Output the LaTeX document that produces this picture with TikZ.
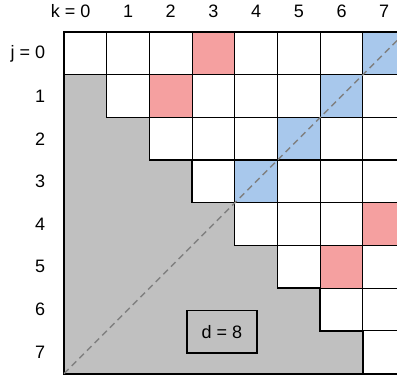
\documentclass[tikz,border=0pt]{standalone}
\usepackage{fontspec}
\setmainfont{Liberation Sans}
\definecolor{cellred}{RGB}{245,160,160}
\definecolor{cellblue}{RGB}{168,200,236}
\definecolor{regiongray}{RGB}{192,192,192}
\definecolor{dashgray}{RGB}{128,128,128}
\begin{document}
\begin{tikzpicture}[
  cell/.style={draw=black, line width=0.8pt, minimum size=1cm, inner sep=0pt, outer sep=0pt},
  lab/.style={inner sep=0pt, font=\fontsize{12}{14}\selectfont},
  dbox/.style={draw=black, line width=0.8pt, fill=regiongray, minimum width=1.64cm, minimum height=1cm, inner sep=0pt, font=\fontsize{12}{14}\selectfont}
]
\useasboundingbox (-1.5,-8.04) rectangle (7.80,0.75);
% shaded lower triangle
\fill[regiongray] (0,-1) -- (1,-1) -- (1,-2) -- (2,-2) -- (2,-3) -- (3,-3) -- (3,-4) -- (4,-4) -- (4,-5) -- (5,-5) -- (5,-6) -- (6,-6) -- (6,-7) -- (7,-7) -- (7,-8) -- (0,-8) -- cycle;
% cells
\foreach \j in {0,...,7}{
  \foreach \k in {\j,...,7}{
    \pgfmathtruncatemacro\s{\j+\k}
    \ifnum\s=7 \def\cc{cellblue}\else\ifnum\s=3 \def\cc{cellred}\else\ifnum\s=11 \def\cc{cellred}\else\def\cc{white}\fi\fi\fi
    \node[cell, fill=\cc] (c\j\k) at (\k+0.5,-\j-0.5) {};
  }
}
% outer border
\draw[line width=1.3pt] (0,0) -- (0,-8) -- (8,-8);
\draw[line width=0.9pt] (0,-1) -- (1,-1) -- (1,-2) -- (2,-2) -- (2,-3) -- (3,-3) -- (3,-4) -- (4,-4) -- (4,-5) -- (5,-5) -- (5,-6) -- (6,-6) -- (6,-7) -- (7,-7) -- (7,-8);
% diagonal
\coordinate (dstart) at (0,-8);
\coordinate (dend) at (8,0);
\draw[dashgray, line width=1pt, dash pattern=on 4.3pt off 2.9pt] (dstart) -- (dend);
% labels
\node[lab] (k0) at (0.5,0.48) {\llap{k = }0};
\foreach \k in {1,...,7}{
  \node[lab] (k\k) at (\k+0.5,0.48) {\k};
}
\node[lab] (j0) at (-0.56,-0.5) {\llap{j = }0};
\foreach \j in {1,...,7}{
  \node[lab] (j\j) at (-0.56,-\j-0.5) {\j};
}
\node[dbox] (d) at (3.70,-7.02) {d = 8};
\end{tikzpicture}
\end{document}
